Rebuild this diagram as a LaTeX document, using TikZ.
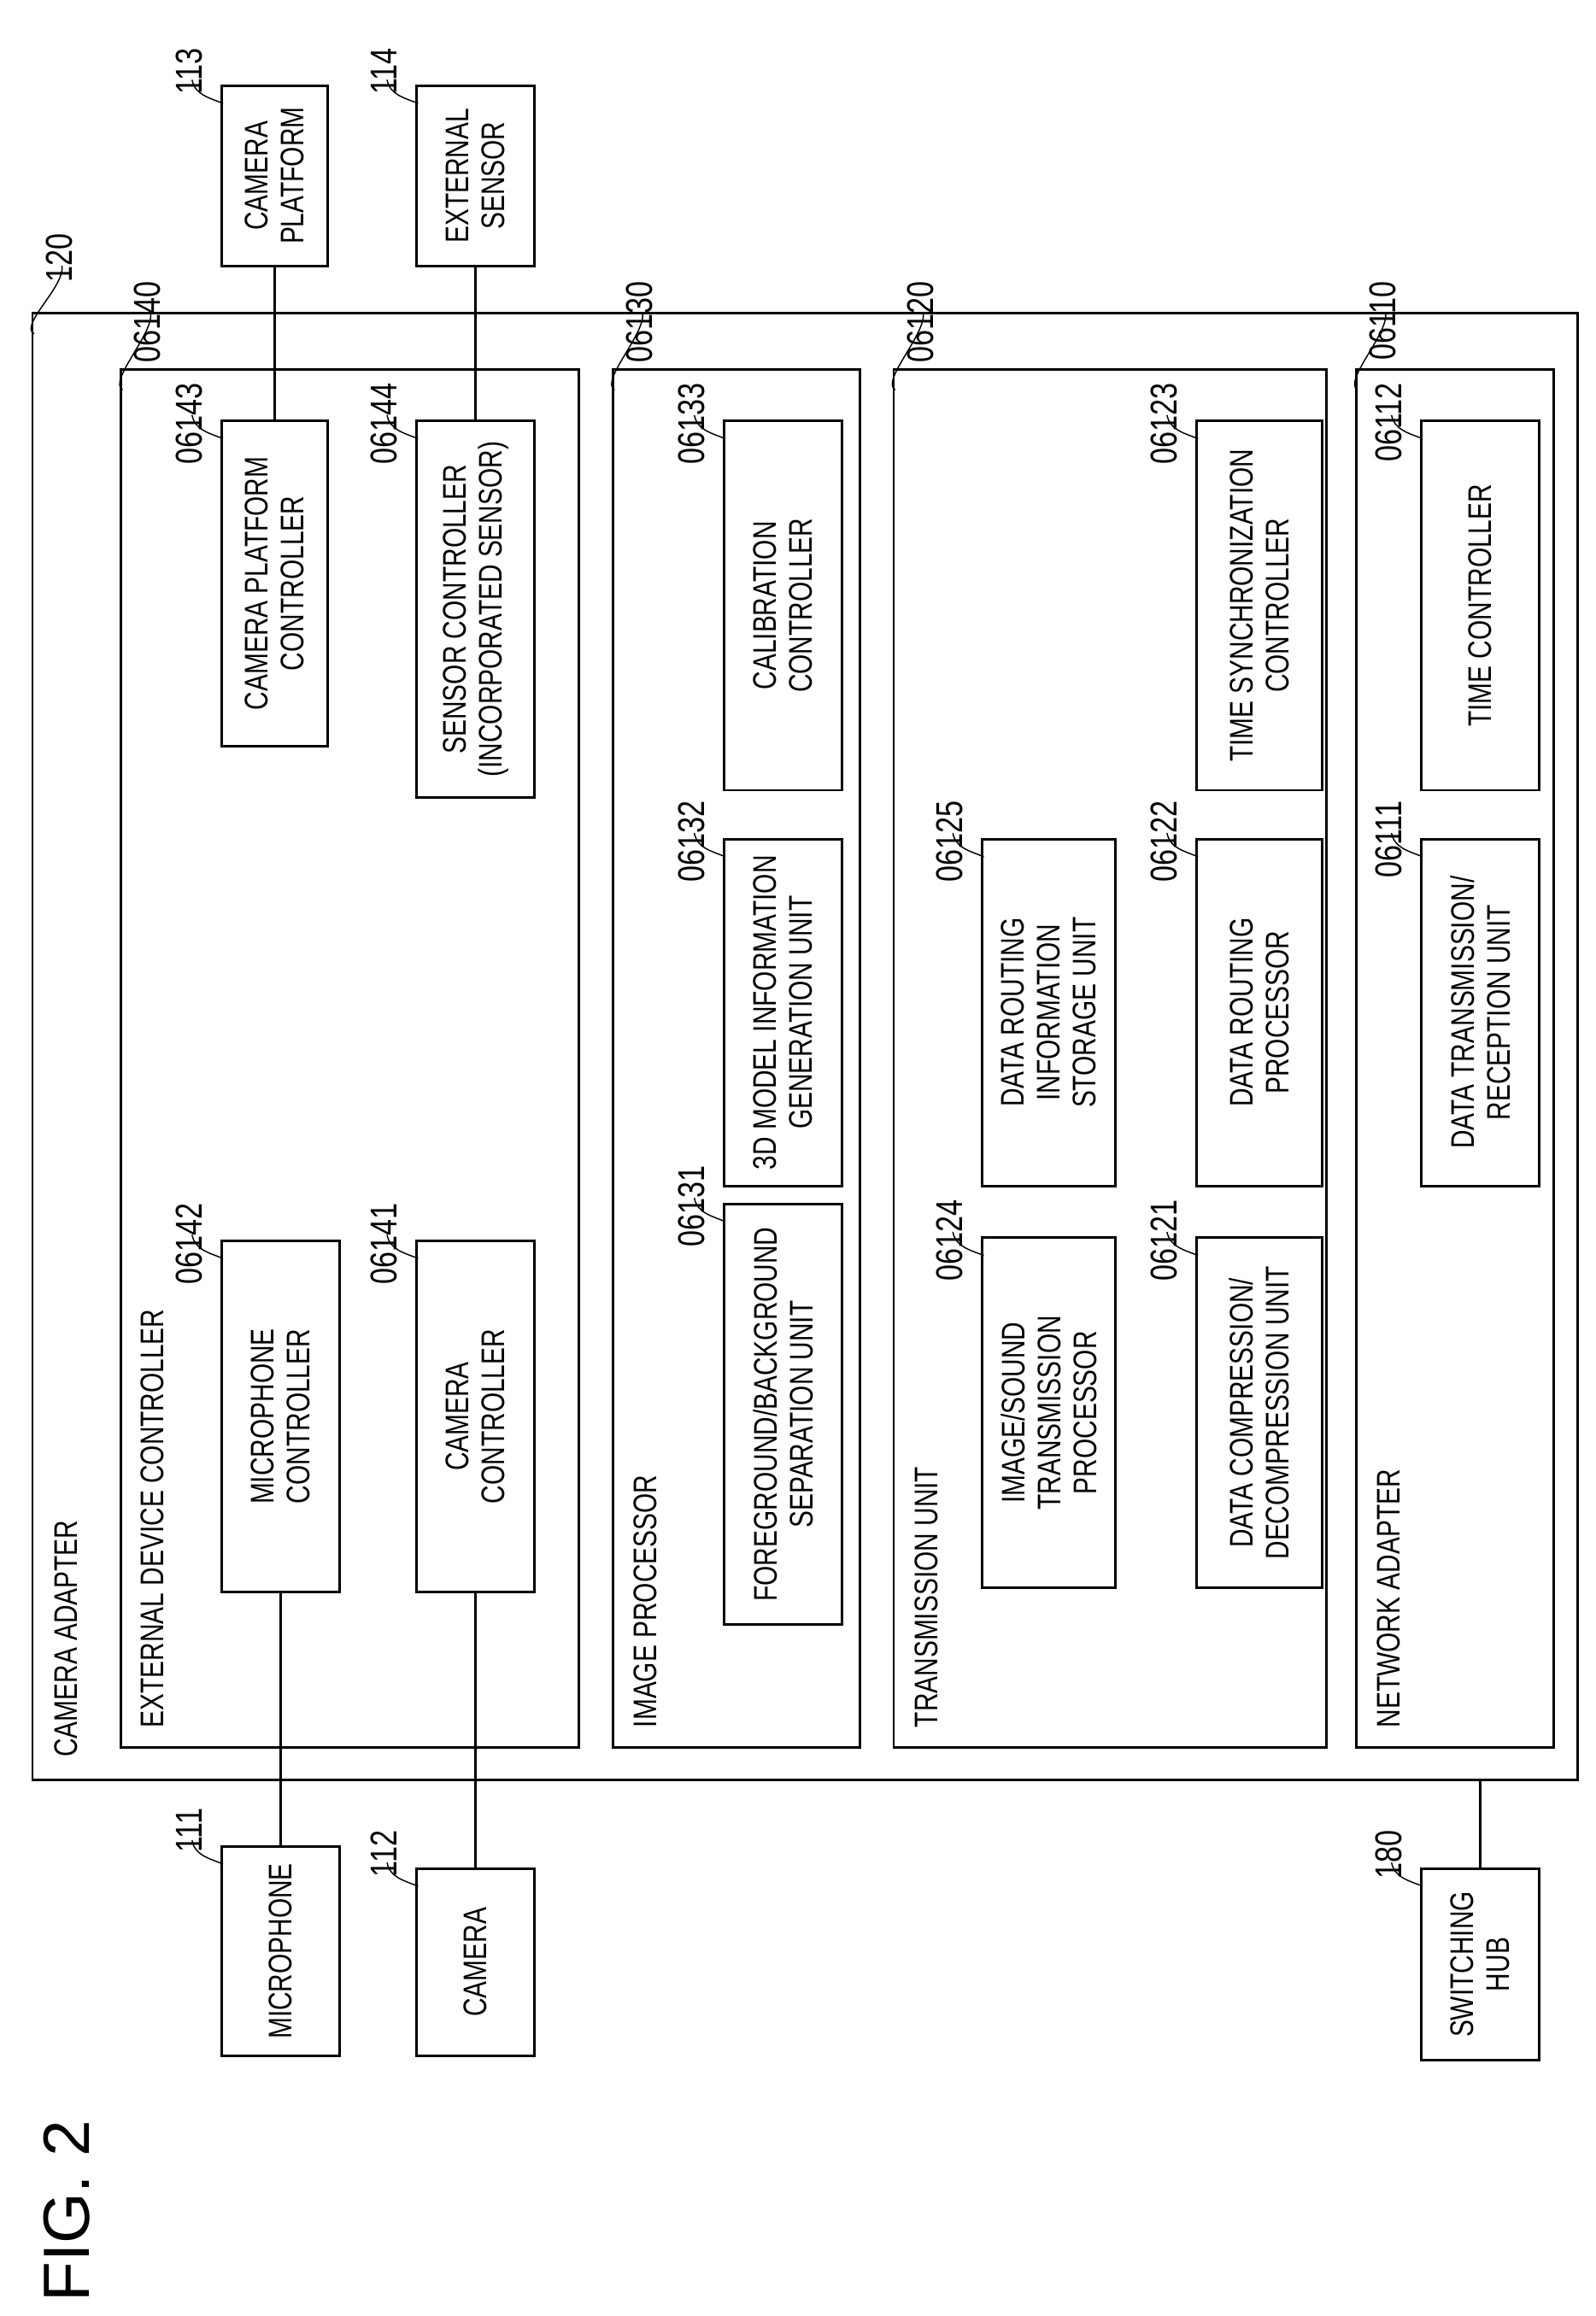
\documentclass[tikz,border=0pt]{standalone}
\usepackage{fontspec}
\setmainfont{Liberation Sans}
\newfontfamily\condfont[FakeStretch=0.78]{Liberation Sans}
\usetikzlibrary{positioning, calc, arrows.meta}
\begin{document}
\begin{tikzpicture}[x=0.016667cm, y=-0.016667cm,
		box/.style={draw, thick, rectangle, rotate=90, align=center, inner sep=1pt,
			font=\condfont\fontsize{10.5}{11.5}\selectfont},
		frame/.style={draw, thick},
		ttl/.style={rotate=90, anchor=west, inner sep=0pt, font=\condfont\fontsize{10.5}{11.5}\selectfont},
		lbl/.style={rotate=90, inner sep=0pt, font=\condfont\fontsize{12}{13}\selectfont},
		lead/.style={thin}]
	\useasboundingbox (0,0) rectangle (1080,1568);
	% unit frames
	\draw[frame] (22,212) rectangle (1068,1205);
	\draw[frame] (82,250) rectangle (392,1183);
	\draw[frame] (415,250) rectangle (582,1183);
	\draw[frame] (605,250) rectangle (898,1183);
	\draw[frame] (918,250) rectangle (1052,1183);
	\node[ttl] (tadapter) at (45,1190) {CAMERA ADAPTER};
	\node[ttl] (textdev) at (103,1170) {EXTERNAL DEVICE CONTROLLER};
	\node[ttl] (timage) at (437,1170) {IMAGE PROCESSOR};
	\node[ttl] (ttrans) at (627,1170) {TRANSMISSION UNIT};
	\node[ttl] (tnet) at (940,1170) {NETWORK ADAPTER};
	% blocks: \blk{name}{xl}{xr}{yt}{yb}{text}{label}
	\newcommand\blk[7]{%
		\node[box, minimum width={(#5-#4)*0.016667cm}, minimum height={(#3-#2)*0.016667cm}]
			(#1) at ({(#2+#3)/2},{(#4+#5)/2}) {#6};
		\node[lbl, anchor=east] (l#1) at ({#2-22},{#4-26}) {#7};
		\coordinate (c#1) at ({#2-20},{#4-4});
		\draw[lead] (c#1) .. controls +(2,10) and +(-10,-4) .. ({#2+1},{#4+12});}
	\blk{mic}{150}{230}{840}{1078}{MICROPHONE\\CONTROLLER}{06142}
	\blk{camc}{282}{362}{840}{1078}{CAMERA\\CONTROLLER}{06141}
	\blk{platc}{150}{222}{285}{505}{CAMERA PLATFORM\\CONTROLLER}{06143}
	\blk{sensc}{282}{362}{285}{540}{SENSOR CONTROLLER\\(INCORPORATED SENSOR)}{06144}
	\blk{fgbg}{490}{570}{815}{1100}{FOREGROUND/BACKGROUND\\SEPARATION UNIT}{06131}
	\blk{model}{490}{570}{568}{803}{3D MODEL INFORMATION\\GENERATION UNIT}{06132}
	\blk{calib}{490}{570}{285}{535}{CALIBRATION\\CONTROLLER}{06133}
	\blk{imgsnd}{665}{755}{838}{1075}{IMAGE/SOUND\\TRANSMISSION\\PROCESSOR}{06124}
	\blk{rstore}{665}{755}{568}{803}{DATA ROUTING\\INFORMATION\\STORAGE UNIT}{06125}
	\blk{comp}{810}{895}{838}{1075}{DATA COMPRESSION/\\DECOMPRESSION UNIT}{06121}
	\blk{rproc}{810}{895}{568}{803}{DATA ROUTING\\PROCESSOR}{06122}
	\blk{tsync}{810}{895}{285}{535}{TIME SYNCHRONIZATION\\CONTROLLER}{06123}
	\blk{trx}{962}{1042}{568}{803}{DATA TRANSMISSION/\\RECEPTION UNIT}{06111}
	\blk{timec}{962}{1042}{285}{535}{TIME CONTROLLER}{06112}
	% external devices
	\blk{micro}{150}{230}{1250}{1392}{MICROPHONE}{111}
	\blk{cam}{282}{362}{1265}{1392}{CAMERA}{112}
	\blk{hub}{962}{1042}{1265}{1395}{SWITCHING\\HUB}{180}
	\blk{plat}{150}{222}{58}{180}{CAMERA\\PLATFORM}{113}
	\blk{sens}{282}{362}{58}{180}{EXTERNAL\\SENSOR}{114}
	% frame labels
	\node[lbl, anchor=east] (l120) at (40,158) {120};
	\draw[lead] (42,180) .. controls +(2,14) and +(-10,-6) .. (23,226);
	\node[lbl, anchor=east] (l06140) at (100,190) {06140};
	\draw[lead] (102,212) .. controls +(2,14) and +(-10,-6) .. (83,264);
	\node[lbl, anchor=east] (l06130) at (433,190) {06130};
	\draw[lead] (435,212) .. controls +(2,14) and +(-10,-6) .. (416,264);
	\node[lbl, anchor=east] (l06120) at (623,190) {06120};
	\draw[lead] (625,212) .. controls +(2,14) and +(-10,-6) .. (606,264);
	\node[lbl, anchor=east] (l06110) at (936,190) {06110};
	\draw[lead] (938,212) .. controls +(2,14) and +(-10,-6) .. (919,264);
	% connections
	\draw[thick] (mic.west) -- (micro.east);
	\draw[thick] (camc.west) -- (cam.east);
	\draw[thick] (platc.east) -- (plat.west);
	\draw[thick] (sensc.east) -- (sens.west);
	\coordinate (hubtop) at (1002,1205);
	\draw[thick] (hubtop) -- (hub.east);
	\node[rotate=90, font=\fontsize{21}{23}\selectfont] (fig) at (45,1497) {FIG. 2};
\end{tikzpicture}
\end{document}
